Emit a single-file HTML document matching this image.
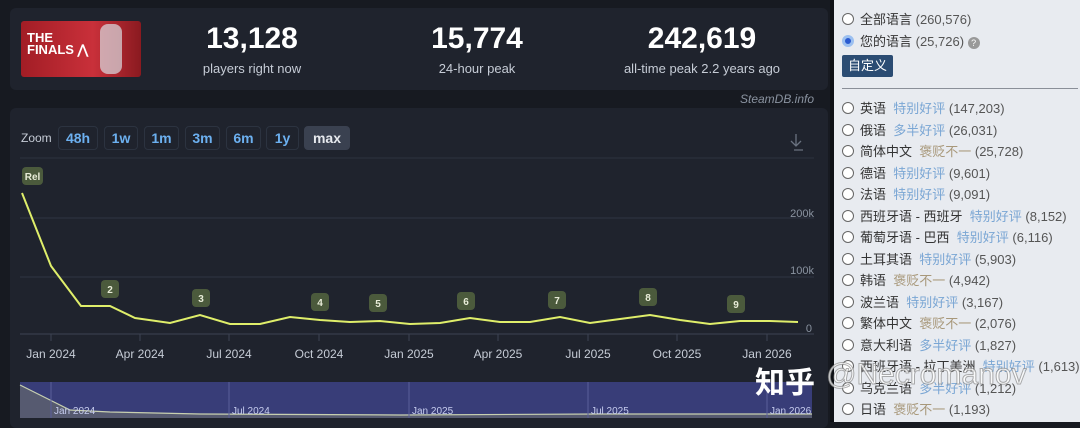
<!DOCTYPE html>
<html><head><meta charset="utf-8"><style>
*{margin:0;padding:0;box-sizing:border-box}
body{width:1080px;height:422px;overflow:hidden;background:#171a21;font-family:"Liberation Sans","Noto Sans CJK SC",sans-serif;position:relative}
.panel{position:absolute;background:#1f232d;border-radius:6px}
.num{position:absolute;color:#fff;font-weight:bold;font-size:30px;text-align:center;width:200px}
.lab{position:absolute;color:#c6ccd6;font-size:13px;text-align:center;width:200px}
.btn{position:absolute;top:126px;height:24px;border:1px solid #2c3340;border-radius:4px;color:#6cb0f0;font-size:14px;font-weight:bold;text-align:center;line-height:22px}
.right{position:absolute;left:834px;top:0;width:246px;height:422px;background:#e8ebf0;font-size:13px;color:#333}
.row{position:absolute;left:8px;height:18px;line-height:18px;white-space:nowrap}
.rd{display:inline-block;width:12px;height:12px;border:1px solid #666;border-radius:50%;background:#fff;vertical-align:-1px;margin-right:6px}
.b{color:#7aa6d4}.m{color:#a8987a}.g{color:#555}
</style></head><body>
<div class="panel" style="left:10px;top:8px;width:818px;height:82px"></div>
<div style="position:absolute;left:21px;top:21px;width:120px;height:56px;background:linear-gradient(90deg,#a21d25,#c9303a 60%,#8a1a20);border-radius:3px"></div>
<div style="position:absolute;left:27px;top:32px;color:#fff;font-weight:bold;font-size:13px;line-height:12px;font-family:'Liberation Sans Narrow','Liberation Sans',sans-serif">THE<br>FINALS ⋀</div>
<div style="position:absolute;left:100px;top:24px;width:22px;height:50px;background:#d8dde2;border-radius:8px;opacity:.7"></div>
<div class="num" style="left:152px;top:22px">13,128</div>
<div class="lab" style="left:152px;top:61px">players right now</div>
<div class="num" style="left:377px;top:22px">15,774</div>
<div class="lab" style="left:377px;top:61px">24-hour peak</div>
<div class="num" style="left:602px;top:22px">242,619</div>
<div class="lab" style="left:602px;top:61px">all-time peak 2.2 years ago</div>
<div style="position:absolute;left:740px;top:92px;color:#8a93a0;font-size:12px;font-style:italic">SteamDB.info</div>
<div class="panel" style="left:10px;top:108px;width:818px;height:320px"></div>
<div style="position:absolute;left:21px;top:131px;color:#c6ccd6;font-size:12px">Zoom</div>
<div class="btn" style="left:58px;width:40px">48h</div>
<div class="btn" style="left:104px;width:34px">1w</div>
<div class="btn" style="left:144px;width:35px">1m</div>
<div class="btn" style="left:185px;width:35px">3m</div>
<div class="btn" style="left:226px;width:35px">6m</div>
<div class="btn" style="left:266px;width:33px">1y</div>
<div class="btn" style="left:304px;width:46px;background:#3a4150;color:#e6e9ee;border-color:#3a4150">max</div>
<svg style="position:absolute;left:0;top:0" width="830" height="422">
<path d="M796 134v12M791 141l5 5 5-5M794 150h9" stroke="#6a7280" fill="none" stroke-width="1.3"/>
<line x1="20" y1="158" x2="814" y2="158" stroke="#2d3340"/>
<line x1="20" y1="218" x2="814" y2="218" stroke="#2f3544"/>
<line x1="20" y1="277" x2="814" y2="277" stroke="#2f3544"/>
<line x1="20" y1="334" x2="814" y2="334" stroke="#3c4352"/>
<g fill="#8a93a0" font-size="11" text-anchor="end" font-family="Liberation Sans"><text x="814" y="217">200k</text><text x="814" y="274">100k</text><text x="812" y="332">0</text></g>
<g stroke="#3c4352"><line x1="51" y1="334" x2="51" y2="341"/><line x1="140" y1="334" x2="140" y2="341"/><line x1="229" y1="334" x2="229" y2="341"/><line x1="319" y1="334" x2="319" y2="341"/><line x1="409" y1="334" x2="409" y2="341"/><line x1="498" y1="334" x2="498" y2="341"/><line x1="588" y1="334" x2="588" y2="341"/><line x1="677" y1="334" x2="677" y2="341"/><line x1="767" y1="334" x2="767" y2="341"/></g>
<g fill="#c6ccd6" font-size="12" text-anchor="middle" font-family="Liberation Sans"><text x="51" y="358">Jan 2024</text><text x="140" y="358">Apr 2024</text><text x="229" y="358">Jul 2024</text><text x="319" y="358">Oct 2024</text><text x="409" y="358">Jan 2025</text><text x="498" y="358">Apr 2025</text><text x="588" y="358">Jul 2025</text><text x="677" y="358">Oct 2025</text><text x="767" y="358">Jan 2026</text></g>
<polyline fill="none" stroke="#dfee6a" stroke-width="2" points="22,193 51,266 81,306 110,306 135,318 170,323 200,315 230,324 260,324 290,317 320,320 350,322 380,321 410,324 440,323 470,318 500,322 530,322 560,317 590,323 620,319 650,315 680,320 710,324 740,321 770,321 798,322"/>
<g font-size="10" font-weight="bold" fill="#e8ecd8" text-anchor="middle" font-family="Liberation Sans">
<rect x="22" y="167" width="21" height="18" rx="4" fill="#4b5a3c"/><text x="32.5" y="180">Rel</text>
<g fill="#4b5a3c"><rect x="101" y="280" width="18" height="18" rx="4"/><rect x="192" y="289" width="18" height="18" rx="4"/><rect x="311" y="293" width="18" height="18" rx="4"/><rect x="369" y="294" width="18" height="18" rx="4"/><rect x="457" y="292" width="18" height="18" rx="4"/><rect x="548" y="291" width="18" height="18" rx="4"/><rect x="639" y="288" width="18" height="18" rx="4"/><rect x="727" y="295" width="18" height="18" rx="4"/></g>
<text x="110" y="293">2</text><text x="201" y="302">3</text><text x="320" y="306">4</text><text x="378" y="307">5</text><text x="466" y="305">6</text><text x="557" y="304">7</text><text x="648" y="301">8</text><text x="736" y="308">9</text></g>
<rect x="20" y="382" width="792" height="36" fill="#383d78"/>
<path d="M20 385 L50 400 L70 410 L110 412 L200 414 L400 415 L812 414 L812 418 L20 418Z" fill="#565a70"/>
<polyline fill="none" stroke="#c8d0b0" stroke-width="1.2" points="20,385 50,400 70,410 110,412 200,414 400,415 600,414 812,414"/>
<g stroke="#5a5f9a"><line x1="51" y1="382" x2="51" y2="418"/><line x1="229" y1="382" x2="229" y2="418"/><line x1="409" y1="382" x2="409" y2="418"/><line x1="588" y1="382" x2="588" y2="418"/><line x1="767" y1="382" x2="767" y2="418"/></g>
<g fill="#c6ccee" font-size="10" font-family="Liberation Sans"><text x="54" y="414">Jan 2024</text><text x="232" y="414">Jul 2024</text><text x="412" y="414">Jan 2025</text><text x="591" y="414">Jul 2025</text><text x="770" y="414">Jan 2026</text></g>
</svg>
<div style="position:absolute;left:755px;top:358px;color:#fff;font-size:30px;font-weight:bold;font-family:'Noto Sans CJK SC',sans-serif">知乎</div>
<div style="position:absolute;left:830px;top:0;width:4px;height:422px;background:#0e1015"></div>
<div class="right">
<div class="row" style="top:11px"><span class="rd"></span>全部语言 <span class="g">(260,576)</span></div>
<div class="row" style="top:33px"><span class="rd" style="border:3px solid #9cc0f0;background:#2a5ad0"></span>您的语言 <span class="g">(25,726)</span> <span style="display:inline-block;width:12px;height:12px;border-radius:50%;background:#999;color:#fff;font-size:9px;text-align:center;line-height:12px">?</span></div>
<div style="position:absolute;left:8px;top:55px;width:51px;height:22px;background:#2b4c73;color:#fff;border-radius:2px;text-align:center;line-height:22px;font-size:13px">自定义</div>
<div style="position:absolute;left:8px;top:88px;width:236px;height:1px;background:#8a8f98"></div>
<div class="row" style="top:100px"><span class="rd"></span>英语 &nbsp;<span class="b">特别好评</span> <span class="g">(147,203)</span></div>
<div class="row" style="top:122px"><span class="rd"></span>俄语 &nbsp;<span class="b">多半好评</span> <span class="g">(26,031)</span></div>
<div class="row" style="top:143px"><span class="rd"></span>简体中文 &nbsp;<span class="m">褒贬不一</span> <span class="g">(25,728)</span></div>
<div class="row" style="top:165px"><span class="rd"></span>德语 &nbsp;<span class="b">特别好评</span> <span class="g">(9,601)</span></div>
<div class="row" style="top:186px"><span class="rd"></span>法语 &nbsp;<span class="b">特别好评</span> <span class="g">(9,091)</span></div>
<div class="row" style="top:208px"><span class="rd"></span>西班牙语 - 西班牙 &nbsp;<span class="b">特别好评</span> <span class="g">(8,152)</span></div>
<div class="row" style="top:229px"><span class="rd"></span>葡萄牙语 - 巴西 &nbsp;<span class="b">特别好评</span> <span class="g">(6,116)</span></div>
<div class="row" style="top:251px"><span class="rd"></span>土耳其语 &nbsp;<span class="b">特别好评</span> <span class="g">(5,903)</span></div>
<div class="row" style="top:272px"><span class="rd"></span>韩语 &nbsp;<span class="m">褒贬不一</span> <span class="g">(4,942)</span></div>
<div class="row" style="top:294px"><span class="rd"></span>波兰语 &nbsp;<span class="b">特别好评</span> <span class="g">(3,167)</span></div>
<div class="row" style="top:315px"><span class="rd"></span>繁体中文 &nbsp;<span class="m">褒贬不一</span> <span class="g">(2,076)</span></div>
<div class="row" style="top:337px"><span class="rd"></span>意大利语 &nbsp;<span class="b">多半好评</span> <span class="g">(1,827)</span></div>
<div class="row" style="top:358px"><span class="rd"></span>西班牙语 - 拉丁美洲 &nbsp;<span class="b">特别好评</span> <span class="g">(1,613)</span></div>
<div class="row" style="top:380px"><span class="rd"></span>乌克兰语 &nbsp;<span class="b">多半好评</span> <span class="g">(1,212)</span></div>
<div class="row" style="top:401px"><span class="rd"></span>日语 &nbsp;<span class="m">褒贬不一</span> <span class="g">(1,193)</span></div>
<div style="position:absolute;left:-8px;top:358px;font-size:30px;color:rgba(255,255,255,.75);-webkit-text-stroke:1px rgba(120,120,120,.6);white-space:nowrap">@Necromanov</div>
</div>
</body></html>
